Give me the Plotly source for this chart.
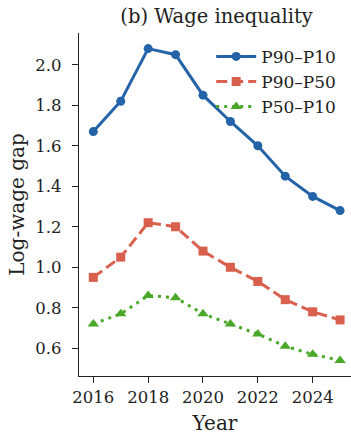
import plotly.graph_objects as go

years = [2016, 2017, 2018, 2019, 2020, 2021, 2022, 2023, 2024, 2025]
p90_p10 = [1.67, 1.82, 2.08, 2.05, 1.85, 1.72, 1.60, 1.45, 1.35, 1.28]
p90_p50 = [0.95, 1.05, 1.22, 1.20, 1.08, 1.00, 0.93, 0.84, 0.78, 0.74]
p50_p10 = [0.72, 0.77, 0.86, 0.85, 0.77, 0.72, 0.67, 0.61, 0.57, 0.54]
series_names = ["P90\u2013P10", "P90\u2013P50", "P50\u2013P10"]
x_ticks = [2016, 2018, 2020, 2022, 2024]
y_ticks = [0.6, 0.8, 1.0, 1.2, 1.4, 1.6, 1.8, 2.0]

FONT = "DejaVu Serif"
BLUE = "#2463a8"
RED = "#d9604c"
GREEN = "#4aa829"
INK = "#222222"

fig = go.Figure()
fig.add_trace(go.Scatter(x=years, y=p90_p10, name=series_names[0], mode="lines+markers",
                         cliponaxis=False,
                         line=dict(color=BLUE, width=3),
                         marker=dict(symbol="circle", size=9, color=BLUE)))
fig.add_trace(go.Scatter(x=years, y=p90_p50, name=series_names[1], mode="lines+markers",
                         cliponaxis=False,
                         line=dict(color=RED, width=3, dash="11px,5px"),
                         marker=dict(symbol="square", size=9, color=RED)))
fig.add_trace(go.Scatter(x=years, y=p50_p10, name=series_names[2], mode="lines+markers",
                         cliponaxis=False,
                         line=dict(color=GREEN, width=3, dash="3px,5px"),
                         marker=dict(symbol="triangle-up", size=10, color=GREEN)))

fig.update_layout(
    width=351, height=435,
    margin=dict(l=79, r=0, t=33, b=59),
    paper_bgcolor="white", plot_bgcolor="white",
    font=dict(family=FONT, size=16.5, color=INK),
    title=dict(text="(b) Wage inequality", x=0.617, xanchor="center", y=0.963, yanchor="middle",
               font=dict(family=FONT, size=19.5, color=INK)),
    showlegend=True,
    hovermode=False,
    legend=dict(x=0.486, y=0.983, xanchor="left", yanchor="top",
                bgcolor="rgba(255,255,255,0)", font=dict(family=FONT, size=17, color=INK),
                itemwidth=40, tracegroupgap=0),
)
fig.update_xaxes(range=[2015.478, 2025.398], tickvals=x_ticks, ticks="outside", ticklen=6,
                 tickwidth=1.2, tickcolor=INK, showline=True, linecolor=INK,
                 linewidth=1.2, showgrid=False, zeroline=False, mirror=False,
                 title=dict(text="Year", font=dict(size=20), standoff=14),
                 tickfont=dict(size=16.5))
fig.update_yaxes(range=[0.463, 2.157], tickvals=y_ticks, tickformat=".1f", ticks="outside",
                 ticklen=6, tickwidth=1.2, tickcolor=INK, showline=True,
                 linecolor=INK, linewidth=1.2, showgrid=False, zeroline=False,
                 ticklabelstandoff=7,
                 title=dict(text="Log-wage gap", font=dict(size=20), standoff=5),
                 tickfont=dict(size=16.5))

fig.write_html("out.html", config={"displayModeBar": False},
               post_script="document.body.style.margin='0';document.body.style.overflow='hidden';")
